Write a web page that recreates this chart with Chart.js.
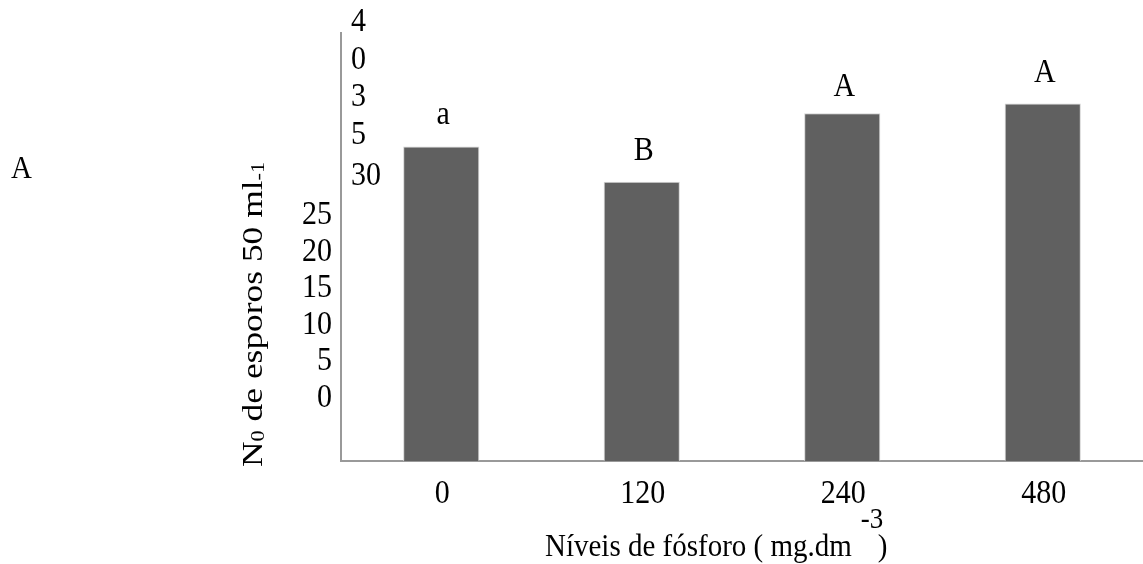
<!DOCTYPE html>
<html>
<head>
<meta charset="utf-8">
<script src="https://cdn.jsdelivr.net/npm/chart.js@4/dist/chart.umd.min.js"></script>
<style>
html,body{margin:0;padding:0;background:#fff;}
canvas{display:block;}
</style>
</head>
<body>
<canvas id="c" width="1143" height="564"></canvas>
<script>
// ---- data ----
const categories = ['0', '120', '240', '480'];
const values = [29.4, 26.1, 32.5, 33.4];
const letters = ['a', 'B', 'A', 'A'];
// tick labels as they appear (broken layout in the original figure)
const yTickLabelsInner = ['4', '0', '3', '5', '30'];
const yTickLabelsOuter = ['25', '20', '15', '10', '5', '0'];
const xTitle = 'Níveis de fósforo ( mg.dm';
const xTitleSup = '-3';
const xTitleEnd = ')';
const yTitleParts = [['N', 'n'], ['0', 's'], [' de esporos 50 ml', 'n'], ['-1', 's']];
const panelLabel = 'A';

const FONT = '"Liberation Serif", "Times New Roman", serif';
const STRETCH = 1.12;

function txt(ctx, s, x, y, align, size) {
  ctx.save();
  ctx.font = size + 'px ' + FONT;
  ctx.fillStyle = '#000';
  ctx.textAlign = align;
  ctx.textBaseline = 'alphabetic';
  ctx.translate(x, y);
  ctx.scale(1, STRETCH);
  ctx.fillText(s, 0, 0);
  ctx.restore();
}

const textPlugin = {
  id: 'textPlugin',
  afterDraw(chart) {
    const ctx = chart.ctx;
    const area = chart.chartArea;
    const xs = chart.scales.x;
    const meta = chart.getDatasetMeta(0);
    // letters above bars
    meta.data.forEach((bar, i) => {
      txt(ctx, letters[i], bar.x + 2, bar.y - (i === 2 ? 17 : 22), 'center', 30);
    });
    // x tick labels
    categories.forEach((c, i) => {
      txt(ctx, c, xs.getPixelForTick(i) + 1, area.bottom + 42, 'center', 30);
    });
    // y tick labels (as printed)
    yTickLabelsInner.forEach((s, i) => {
      txt(ctx, s, area.left + 10, 31 + i * 37.5 + (i === 4 ? 4 : 0), 'left', 30);
    });
    yTickLabelsOuter.forEach((s, i) => {
      txt(ctx, s, area.left - 9, 224 + i * 36.5, 'right', 30);
    });
    // x title
    ctx.save();
    ctx.font = '29px ' + FONT;
    const w = ctx.measureText(xTitle).width;
    ctx.restore();
    const tx = 545;
    txt(ctx, xTitle, tx, 556, 'left', 29);
    txt(ctx, xTitleSup, tx + w + 9, 528, 'left', 27);
    txt(ctx, xTitleEnd, tx + w + 26, 556, 'left', 29);
    // y title (rotated)
    ctx.save();
    ctx.translate(262, 467);
    ctx.rotate(-Math.PI / 2);
    ctx.scale(STRETCH + 0.06, 1);
    ctx.fillStyle = '#000';
    ctx.textBaseline = 'alphabetic';
    ctx.textAlign = 'left';
    let px = 0;
    yTitleParts.forEach(([s, kind]) => {
      const size = kind === 's' ? 19 : 30;
      ctx.font = size + 'px ' + FONT;
      ctx.fillText(s, px, kind === 's' ? 2 : 0);
      px += ctx.measureText(s).width;
    });
    ctx.restore();
    // panel label
    txt(ctx, panelLabel, 11, 178, 'left', 29);
  }
};

new Chart(document.getElementById('c'), {
  type: 'bar',
  data: {
    labels: categories,
    datasets: [{
      data: values,
      backgroundColor: '#606060',
      borderColor: '#d4d4d4',
      borderWidth: 1,
      barPercentage: 0.38,
      categoryPercentage: 1.0
    }]
  },
  options: {
    responsive: false,
    animation: false,
    layout: { padding: { left: 341, top: 33, right: 0, bottom: 103 } },
    plugins: { legend: { display: false }, tooltip: { enabled: false } },
    scales: {
      x: {
        grid: { display: false, drawTicks: false, tickLength: 0 },
        ticks: { display: false },
        border: { display: true, color: '#999999', width: 2 }
      },
      y: {
        min: 0, max: 40,
        grid: { display: false, drawTicks: false, tickLength: 0 },
        ticks: { display: false },
        border: { display: true, color: '#999999', width: 2 }
      }
    }
  },
  plugins: [textPlugin]
});
</script>
</body>
</html>
